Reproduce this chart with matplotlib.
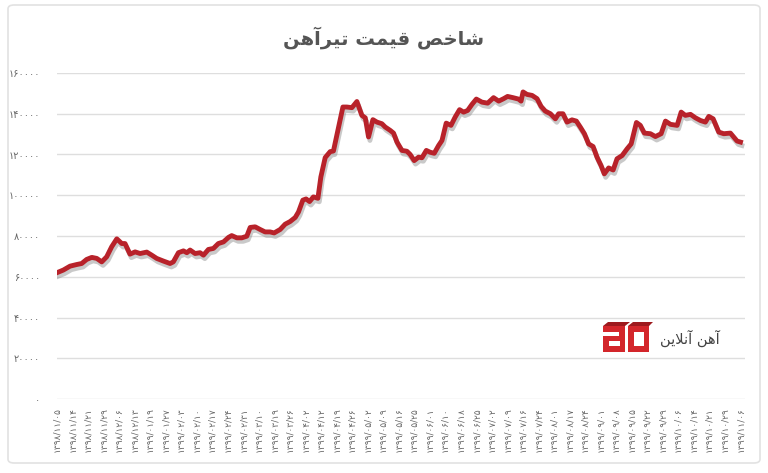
import matplotlib
matplotlib.use("Agg")
import matplotlib.pyplot as plt
import matplotlib.patheffects as pe
from matplotlib.patches import Rectangle, Polygon, FancyBboxPatch

# steel beam price index (Toman)
positions = [
    0.00, 0.41, 0.84, 1.27, 1.59, 1.91, 2.24, 2.56, 2.88, 3.20,
    3.52, 3.85, 4.17, 4.38, 4.70, 5.03, 5.35, 5.78, 6.10, 6.42,
    6.85, 7.28, 7.49, 7.82, 8.14, 8.36, 8.57, 8.89, 9.21, 9.43,
    9.75, 10.07, 10.39, 10.72, 11.04, 11.25, 11.58, 11.90, 12.22, 12.44,
    12.76, 13.08, 13.40, 13.72, 13.98, 14.37, 14.69, 15.01, 15.34, 15.55,
    15.83, 16.04, 16.26, 16.51, 16.80, 16.99, 17.27, 17.59, 17.80, 18.13,
    18.41, 18.66, 18.99, 19.31, 19.63, 19.85, 20.06, 20.34, 20.60, 20.92,
    21.13, 21.46, 21.67, 21.89, 22.21, 22.53, 22.74, 23.00, 23.28, 23.50,
    23.78, 24.03, 24.29, 24.57, 24.79, 25.06, 25.37, 25.64, 25.92, 26.18,
    26.44, 26.72, 27.00, 27.36, 27.73, 28.11, 28.44, 28.76, 29.01, 29.36,
    29.72, 29.88, 30.01, 30.26, 30.59, 30.91, 31.17, 31.44, 31.77, 32.09,
    32.30, 32.58, 32.84, 33.16, 33.44, 33.70, 33.96, 34.23, 34.52, 34.77,
    35.03, 35.24, 35.52, 35.81, 36.06, 36.39, 36.71, 36.97, 37.31, 37.56,
    37.82, 38.21, 38.53, 38.90, 39.18, 39.50, 39.93, 40.19, 40.46, 40.79,
    41.11, 41.43, 41.75, 41.97, 42.25, 42.61, 42.93, 43.36, 43.79, 44.01,
]
values = [
    62000, 63300, 65200, 66000, 66500, 68500, 69500, 69000, 67300, 69800,
    74700, 78600, 76300, 76300, 71100, 72200, 71400, 72100, 70600, 69000,
    67700, 66500, 67300, 71800, 72700, 71800, 73100, 71400, 71800, 70600,
    73400, 73900, 76300, 77100, 79300, 80200, 79100, 79100, 79900, 84200,
    84500, 83200, 82000, 82000, 81500, 83200, 85800, 87100, 89100, 91800,
    97600, 98200, 96900, 99200, 98500, 109000, 118500, 121400, 121700, 133500,
    143300, 143300, 143000, 146000, 139200, 138000, 128600, 137100, 135900, 135100,
    133500, 131800, 130500, 126100, 122000, 121600, 120000, 117000, 118700, 118400,
    122000, 121100, 120600, 124400, 126900, 135400, 134300, 138400, 142000, 140800,
    141600, 144600, 147200, 145700, 145200, 147900, 146200, 147400, 148500, 147900,
    147200, 146200, 150700, 149500, 149000, 147400, 143600, 141300, 140000, 137500,
    140000, 140000, 135900, 137000, 136400, 133400, 130200, 125200, 123900, 118700,
    114600, 110500, 113400, 112400, 117900, 119500, 122800, 125200, 135700, 134300,
    130500, 130200, 128800, 130200, 136400, 134800, 134300, 140800, 139200, 139700,
    138000, 136700, 135900, 138700, 137500, 131000, 130200, 130500, 126600, 126100,
]
date_labels = [
    "1398/11/05", "1398/11/14", "1398/11/21", "1398/11/29", "1398/12/06",
    "1398/12/13", "1399/01/19", "1399/01/27", "1399/02/03", "1399/02/10",
    "1399/02/17", "1399/02/24", "1399/02/31", "1399/03/10", "1399/03/19",
    "1399/03/26", "1399/04/02", "1399/04/12", "1399/04/19", "1399/04/26",
    "1399/05/02", "1399/05/09", "1399/05/16", "1399/05/25", "1399/06/01",
    "1399/06/10", "1399/06/18", "1399/06/25", "1399/07/02", "1399/07/09",
    "1399/07/16", "1399/07/24", "1399/08/01", "1399/08/17", "1399/08/24",
    "1399/09/01", "1399/09/08", "1399/09/15", "1399/09/22", "1399/09/29",
    "1399/10/06", "1399/10/14", "1399/10/21", "1399/10/29", "1399/11/06",
]
y_ticks = [0, 20000, 40000, 60000, 80000, 100000, 120000, 140000, 160000]
title_text = "شاخص قیمت تیرآهن"
logo_text = "آهن آنلاین"

W, H = 768, 473
LINE_COLOR = "#b8222a"
TEXT_GRAY = "#666666"
GRID_GRAY = "#dedede"

# --- tiny Persian shaper (matplotlib has no complex text layout) ---
FORMS = {
    "ا": ("\uFE8D", "\uFE8E", None, None),
    "آ": ("\uFE81", "\uFE82", None, None),
    "ر": ("\uFEAD", "\uFEAE", None, None),
    "ش": ("\uFEB5", "\uFEB6", "\uFEB7", "\uFEB8"),
    "خ": ("\uFEA5", "\uFEA6", "\uFEA7", "\uFEA8"),
    "ص": ("\uFEB9", "\uFEBA", "\uFEBB", "\uFEBC"),
    "ق": ("\uFED5", "\uFED6", "\uFED7", "\uFED8"),
    "ی": ("\uFBFC", "\uFBFD", "\uFBFE", "\uFBFF"),
    "م": ("\uFEE1", "\uFEE2", "\uFEE3", "\uFEE4"),
    "ت": ("\uFE95", "\uFE96", "\uFE97", "\uFE98"),
    "ه": ("\uFEE9", "\uFEEA", "\uFEEB", "\uFEEC"),
    "ن": ("\uFEE5", "\uFEE6", "\uFEE7", "\uFEE8"),
    "ل": ("\uFEDD", "\uFEDE", "\uFEDF", "\uFEE0"),
}
LAM_ALEF = {"ا": ("\uFEFB", "\uFEFC"), "آ": ("\uFEF5", "\uFEF6")}


def shape_fa(text):
    out = []
    i = 0
    n = len(text)
    while i < n:
        ch = text[i]
        if ch not in FORMS:
            out.append(ch)
            i += 1
            continue
        prev = text[i - 1] if i > 0 else None
        prev_joins = prev in FORMS and FORMS[prev][2] is not None
        if ch == "ل" and i + 1 < n and text[i + 1] in LAM_ALEF:
            iso, fin = LAM_ALEF[text[i + 1]]
            out.append(fin if prev_joins else iso)
            i += 2
            continue
        nxt = text[i + 1] if i + 1 < n else None
        next_joins = nxt in FORMS
        iso, fin, ini, med = FORMS[ch]
        if ini is None:
            out.append(fin if prev_joins else iso)
        elif prev_joins and next_joins:
            out.append(med)
        elif prev_joins:
            out.append(fin)
        elif next_joins:
            out.append(ini)
        else:
            out.append(iso)
        i += 1
    return "".join(reversed(out))


def fa_digits(s):
    return str(s).translate(str.maketrans("0123456789", "۰۱۲۳۴۵۶۷۸۹"))


def px(x, y):
    return (x / W, 1 - y / H)


plt.rcParams["font.family"] = ["DejaVu Sans"]
fig = plt.figure(figsize=(W / 100, H / 100), dpi=100)
ax = fig.add_axes([57 / W, 1 - 399 / H, (745 - 57) / W, (399 - 73) / H])

ax.plot(
    positions, values, color=LINE_COLOR, lw=3.5, solid_joinstyle="round",
    path_effects=[pe.SimpleLineShadow(offset=(1, -2.5), shadow_color="#888888", alpha=0.45),
                  pe.Normal()],
    zorder=3,
)

ax.set_xlim(0, 44.3)
ax.set_ylim(0, 160000)
ax.set_yticks(y_ticks)
ax.set_yticklabels([fa_digits(v) for v in y_ticks], fontsize=7, color=TEXT_GRAY)
ax.set_xticks(range(len(date_labels)))
ax.set_xticklabels([fa_digits(d) for d in date_labels], rotation=90, fontsize=6.5,
                   color=TEXT_GRAY)
ax.tick_params(axis="both", length=0)
ax.tick_params(axis="y", pad=12)
ax.tick_params(axis="x", pad=6)
ax.grid(axis="y", color=GRID_GRAY, lw=1)
ax.set_axisbelow(True)
for s in ax.spines.values():
    s.set_visible(False)

fig.text(0.5, 1 - 38 / H, shape_fa(title_text), ha="center", va="center",
         fontsize=14, fontweight="bold", color="#555555")

# outer frame
fig.patches.append(FancyBboxPatch(px(8, 463), (760 - 8) / W, (463 - 5) / H,
                                  boxstyle="round,pad=0,rounding_size=0.008",
                                  transform=fig.transFigure, fill=False,
                                  ec="#e2e2e2", lw=1.2))

# logo
red, dark = "#d3262b", "#9e1a1e"
tf = fig.transFigure
def rect(x0, y0, x1, y1, c):
    fig.patches.append(Rectangle(px(x0, y1), (x1 - x0) / W, (y1 - y0) / H,
                                 transform=tf, color=c, lw=0))
fig.patches.append(Polygon([px(603, 326), px(608, 322), px(630, 322), px(625, 326)],
                           closed=True, transform=tf, color=dark, lw=0))
rect(603, 326, 625, 352, red)
rect(603, 332, 619, 336, "white")
rect(609, 341, 620, 346, "white")
fig.patches.append(Polygon([px(628, 326), px(633, 322), px(653, 322), px(649, 326)],
                           closed=True, transform=tf, color=dark, lw=0))
rect(628, 326, 649, 352, red)
rect(634, 332, 644, 346, "white")
fig.text(*px(690, 338), shape_fa(logo_text), ha="center", va="center",
         fontsize=10.5, color="#444444")

fig.savefig("out.png", dpi=100)
